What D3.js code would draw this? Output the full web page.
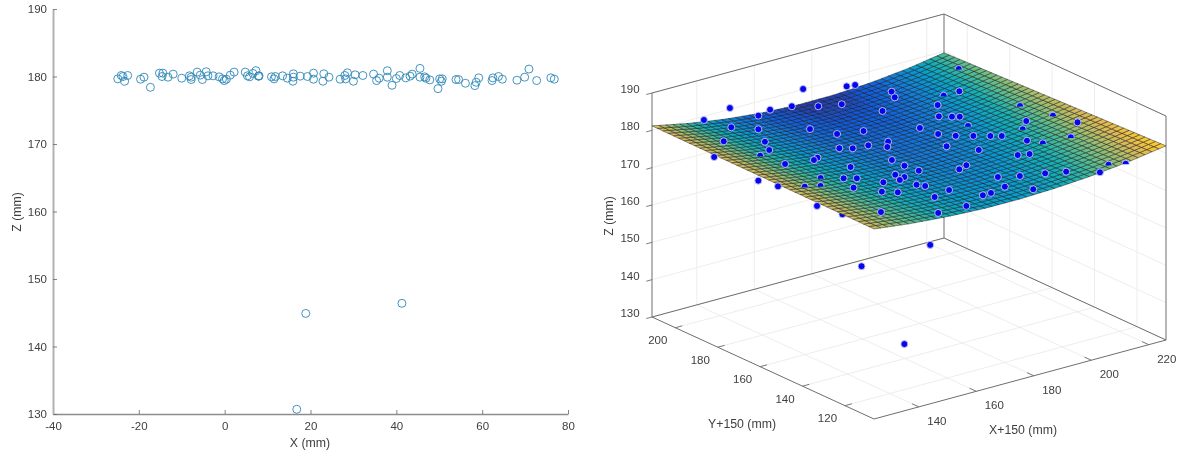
<!DOCTYPE html>
<html>
<head>
<meta charset="utf-8">
<title>Z scatter and fitted surface</title>
<script src="https://cdnjs.cloudflare.com/ajax/libs/d3/7.8.5/d3.min.js"></script>
<style>
	html, body { margin: 0; padding: 0; background: #fff; }
	svg { display: block; filter: blur(0.35px); }
	text { font-family: "Liberation Sans", Arial, sans-serif; fill: #404040; }
</style>
</head>
<body>
<svg id="chart" width="1180" height="452"></svg>
<script>
// --------- data --------- //

// left plot: X (mm), Z (mm)
var scatterX = [-24.9, -24.1, -23.7, -23.3, -22.6, -19.6, -18.8, -17.3, -15.2, -14.4, -14.6, -13.2, -12, -10, -8.2, -7.8, -7.8, -6.4, -5.7, -5.2, -4.3, -3.9, -2.7, -1.3, -0.5, -0.1, 0.4, 1.3, 2.2, 4.8, 5.3, 5.8, 6.6, 7.3, 7.9, 7.9, 8, 10.9, 11.5, 11.8, 13.5, 14.6, 16, 16, 15.9, 17.6, 19.3, 20.7, 20.7, 22.9, 23.1, 24.3, 26.9, 28, 28.6, 28.2, 30, 30.4, 32.2, 34.7, 35.4, 36, 37.9, 37.9, 39, 40, 40.8, 42.2, 43.2, 43.7, 45.5, 45.5, 46.6, 46.9, 47.8, 49.7, 50.1, 50.7, 50.5, 53.9, 54.5, 56.1, 59.2, 58.6, 58.3, 62.5, 62.3, 63.8, 64.7, 68.1, 69.9, 70.9, 72.7, 76, 76.8, 18.9, 41.3, 16.8];
var scatterZ = [179.65, 180.15, 180, 179.3, 180.15, 179.6, 179.9, 178.4, 180.5, 180.5, 180, 179.9, 180.35, 179.75, 180.1, 179.9, 179.55, 180.65, 180.2, 179.55, 180.7, 180.1, 180.1, 179.95, 179.65, 179.4, 179.6, 180.2, 180.65, 180.65, 180.1, 179.95, 180.45, 180.85, 180.05, 180.05, 180.1, 179.95, 179.65, 180, 180.1, 179.75, 180.4, 179.9, 179.3, 180.05, 180, 180.5, 179.6, 179.3, 180.4, 179.9, 179.6, 180.15, 180.55, 179.65, 179.3, 180.25, 180.15, 180.35, 179.4, 179.75, 180.85, 179.9, 178.7, 179.7, 180.15, 179.8, 180.05, 180.35, 181.2, 179.9, 179.95, 179.75, 179.5, 178.2, 179.65, 179.65, 179.3, 179.55, 179.55, 179, 179.8, 179.15, 178.65, 179.8, 179.4, 180, 179.6, 179.45, 179.9, 181.1, 179.4, 179.8, 179.6, 144.9, 146.4, 130.7];
var scatterXTicks = [-40, -20, 0, 20, 40, 60, 80];
var scatterZTicks = [130, 140, 150, 160, 170, 180, 190];

// right plot: points sitting in front of the surface, near Z = 180
var pointZLevel = 180;
var pointX = [140.7, 152.1, 143.2, 134.9, 125.3, 154.7, 160.1, 148.2, 143.7, 140.7, 137.5, 123.7, 177.2, 166.5, 172.3, 188, 190.5, 178.4, 159.6, 163.2, 170.4, 156.9, 159.8, 164.6, 147.6, 145.7, 150.4, 143.5, 146.4, 141.2, 124.5, 135.6, 145.5, 150.3, 148.7, 195.3, 193.3, 184.1, 184.2, 170.7, 168, 162.8, 162.8, 163.6, 156.5, 157.4, 155, 156.4, 210.3, 199, 193.9, 196.6, 198.3, 185.3, 188.3, 192.1, 195.8, 198.3, 181.3, 186.6, 210.8, 221.4, 201.6, 192.7, 195.8, 176.6, 173.1, 157.7, 154.5, 161, 147.7, 157.2, 165.9, 168.8, 174.8, 177.9, 183.2, 179.8, 190, 195.4, 202.5, 125.3];
var pointY = [208.6, 211.8, 199.1, 191.4, 182.9, 201.9, 203.7, 193.1, 183.9, 177.8, 166, 159.9, 211.3, 202.1, 197.5, 205.4, 204.8, 194.7, 184.2, 176.3, 173.6, 166.7, 164.3, 163.5, 164.4, 163.5, 152.6, 146.5, 144.2, 138.7, 133.3, 118.2, 131.2, 137, 128, 194.1, 189.9, 183.2, 165.7, 162.4, 159.1, 149.9, 144, 138.3, 139.8, 136.7, 135.6, 129.6, 182.5, 177.4, 169.9, 167.4, 166, 158.6, 154.4, 151.2, 148.2, 146.2, 149.2, 141.2, 151.6, 141.8, 138.8, 131.1, 129.7, 133.5, 132.1, 127.3, 118.5, 120.5, 107.6, 107.2, 111.2, 111.3, 112.9, 120.4, 117.2, 106.3, 114.5, 111.9, 105.6, 152.8];

// points that dip into the surface, only their top shows
var dippedX = [136, 138.6, 134.8, 131, 220.8, 204.8, 195.7, 216.6, 206.1, 219.2, 212.8, 203.8, 208, 212.2];
var dippedY = [175.7, 150.7, 145.6, 147.9, 197, 182.4, 158.6, 162.4, 146.9, 150.4, 133.3, 134.3, 109, 106.6];

// points below the surface
var lowX = [126.1, 165, 167.8, 190.5];
var lowY = [123.5, 147, 171, 169.4];
var lowZ = [180, 131, 145, 146.4];

// fitted surface, Z read at these X / Y knots (one row per Y knot)
var surfaceXKnots = [124.4, 137.1, 149.8, 162.5, 175.2, 187.9, 200.6, 213.3, 226];
var surfaceYKnots = [106.3, 132.5, 158.7, 184.8, 211];
var surfaceRow1 = [180.9, 179.7, 178.9, 178.4, 178.35, 178.7, 179.4, 180.5, 182];
var surfaceRow2 = [181, 179.55, 178.6, 178, 177.8, 178.1, 178.8, 179.9, 181.4];
var surfaceRow3 = [181.05, 179.4, 178.3, 177.6, 177.3, 177.5, 178.15, 179.25, 180.8];
var surfaceRow4 = [181.1, 179.3, 178, 177.15, 176.8, 176.9, 177.5, 178.6, 180.2];
var surfaceRow5 = [181.2, 179.2, 177.7, 176.7, 176.25, 176.3, 176.9, 178, 179.6];

var boxXTicks = [140, 160, 180, 200, 220];
var boxYTicks = [120, 140, 160, 180, 200];
var boxZTicks = [130, 140, 150, 160, 170, 180, 190];

// parula
var parulaStops = ["#352a87", "#0f5cdd", "#127dd8", "#079ccf", "#15b1b4", "#59bd8c", "#a5be6b", "#e1b952", "#fcce2e", "#f9fb0e"];

var svg = d3.select("#chart");

// --------- left plot --------- //
function drawScatter(){
	var x = d3.scaleLinear().domain([-40, 80]).range([53, 568]);
	var z = d3.scaleLinear().domain([130, 190]).range([414, 9]);

	var g = svg.append("g").attr("class", "scatter");

	var xAxis = g.append("g")
		.attr("transform", "translate(0,414)")
		.call(d3.axisBottom(x).tickValues(scatterXTicks).tickFormat(function(d) { return String(d); }).tickSizeInner(-4).tickSizeOuter(0).tickPadding(8));
	var zAxis = g.append("g")
		.attr("transform", "translate(53,0)")
		.call(d3.axisLeft(z).tickValues(scatterZTicks).tickSizeInner(-4).tickSizeOuter(0).tickPadding(6));

	xAxis.selectAll("text").style("font-size", "11.5px");
	zAxis.selectAll("text").style("font-size", "11.5px");
	xAxis.select(".domain").attr("stroke", "#8c8c8c").attr("stroke-width", 1.3);
	zAxis.select(".domain").attr("stroke", "#b2b2b2").attr("stroke-width", 2);
	g.selectAll(".tick line").attr("stroke", "#666").attr("stroke-width", 0.8);

	g.append("text")
		.attr("x", 310).attr("y", 447)
		.attr("text-anchor", "middle")
		.style("font-size", "12.3px")
		.text("X (mm)");
	g.append("text")
		.attr("transform", "translate(21,212) rotate(-90)")
		.attr("text-anchor", "middle")
		.style("font-size", "12.3px")
		.text("Z (mm)");

	g.selectAll("circle")
		.data(scatterX)
		.enter().append("circle")
			.attr("cx", function(d) { return x(d); })
			.attr("cy", function(d, i) { return z(scatterZ[i]); })
			.attr("r", 4)
			.attr("fill", "none")
			.attr("stroke", "#2f88b8")
			.attr("stroke-width", 0.9);
}

// --------- right plot --------- //
function drawBox(){
	var xLim = [124.4, 226], yLim = [106.3, 211], zLim = [130, 190];

	// screen offset from the front floor corner, one scale per data axis
	var xToLeft = d3.scaleLinear().domain(xLim).range([0, 292]);
	var xToTop = d3.scaleLinear().domain(xLim).range([0, -79]);
	var yToLeft = d3.scaleLinear().domain(yLim).range([0, -222]);
	var yToTop = d3.scaleLinear().domain(yLim).range([0, -102]);
	var zToTop = d3.scaleLinear().domain(zLim).range([0, -224]);

	function project(x, y, z){
		return [874 + xToLeft(x) + yToLeft(y), 419 + xToTop(x) + yToTop(y) + zToTop(z)];
	}

	var g = svg.append("g").attr("class", "box");
	var path = d3.line();

	function seg(parent, a, b, color, width){
		parent.append("path")
			.attr("d", path([project(a[0], a[1], a[2]), project(b[0], b[1], b[2])]))
			.attr("stroke", color)
			.attr("stroke-width", width)
			.attr("fill", "none");
	}

	// grid on floor and the two back walls
	var grid = g.append("g").attr("class", "grid");
	var gridColor = "#e8e8e8";
	boxXTicks.forEach(function(t){
		seg(grid, [t, yLim[0], zLim[0]], [t, yLim[1], zLim[0]], gridColor, 0.8);
		seg(grid, [t, yLim[1], zLim[0]], [t, yLim[1], zLim[1]], gridColor, 0.8);
	});
	boxYTicks.forEach(function(t){
		seg(grid, [xLim[0], t, zLim[0]], [xLim[1], t, zLim[0]], gridColor, 0.8);
		seg(grid, [xLim[1], t, zLim[0]], [xLim[1], t, zLim[1]], gridColor, 0.8);
	});
	boxZTicks.forEach(function(t){
		seg(grid, [xLim[0], yLim[1], t], [xLim[1], yLim[1], t], gridColor, 0.8);
		seg(grid, [xLim[1], yLim[1], t], [xLim[1], yLim[0], t], gridColor, 0.8);
	});

	// box edges
	var edges = g.append("g").attr("class", "edges");
	var edgeColor = "#6e6e6e";
	seg(edges, [xLim[0], yLim[1], zLim[0]], [xLim[0], yLim[1], zLim[1]], edgeColor, 1);
	seg(edges, [xLim[1], yLim[1], zLim[0]], [xLim[1], yLim[1], zLim[1]], edgeColor, 1);
	seg(edges, [xLim[1], yLim[0], zLim[0]], [xLim[1], yLim[0], zLim[1]], edgeColor, 1);
	seg(edges, [xLim[0], yLim[1], zLim[1]], [xLim[1], yLim[1], zLim[1]], edgeColor, 1);
	seg(edges, [xLim[1], yLim[1], zLim[1]], [xLim[1], yLim[0], zLim[1]], edgeColor, 1);
	seg(edges, [xLim[0], yLim[1], zLim[0]], [xLim[1], yLim[1], zLim[0]], edgeColor, 1);
	seg(edges, [xLim[1], yLim[1], zLim[0]], [xLim[1], yLim[0], zLim[0]], edgeColor, 1);
	seg(edges, [xLim[0], yLim[0], zLim[0]], [xLim[1], yLim[0], zLim[0]], edgeColor, 1);
	seg(edges, [xLim[0], yLim[0], zLim[0]], [xLim[0], yLim[1], zLim[0]], edgeColor, 1);

	// ticks and labels
	var labels = g.append("g").attr("class", "labels");
	function label(pos, dx, dy, txt){
		labels.append("text")
			.attr("x", pos[0] + dx).attr("y", pos[1] + dy)
			.attr("text-anchor", "middle")
			.attr("dominant-baseline", "central")
			.style("font-size", "11.5px")
			.text(txt);
	}
	boxXTicks.forEach(function(t){
		seg(labels, [t, yLim[0], zLim[0]], [t, yLim[0] + 3.2, zLim[0]], edgeColor, 0.9);
		label(project(t, yLim[0], zLim[0]), 18, 14, t);
	});
	boxYTicks.forEach(function(t){
		seg(labels, [xLim[0], t, zLim[0]], [xLim[0] + 2.4, t, zLim[0]], edgeColor, 0.9);
		label(project(xLim[0], t, zLim[0]), -17.5, 12.5, t);
	});
	boxZTicks.forEach(function(t){
		seg(labels, [xLim[0], yLim[1], t], [xLim[0] - 2, yLim[1], t], edgeColor, 0.9);
		label(project(xLim[0], yLim[1], t), -22, -4, t);
	});
	labels.selectAll("text.axis-title")
		.data([
			{t: "X+150 (mm)", x: 1023, y: 430, r: 0},
			{t: "Y+150 (mm)", x: 742, y: 424, r: 0},
			{t: "Z (mm)", x: 609, y: 216, r: -90}
		])
		.enter().append("text")
			.attr("class", "axis-title")
			.attr("transform", function(d) { return "translate(" + d.x + "," + d.y + ") rotate(" + d.r + ")"; })
			.attr("text-anchor", "middle")
			.attr("dominant-baseline", "central")
			.style("font-size", "12.3px")
			.text(function(d) { return d.t; });

	function dots(parent, xs, ys, zs){
		parent.selectAll("circle")
			.data(xs)
			.enter().append("circle")
				.attr("transform", function(d, i) {
					return "translate(" + project(d, ys[i], zs(i)) + ")";
				})
				.attr("r", 3.5)
				.attr("fill", "#0505ee")
				.attr("stroke", "#c9c9f2")
				.attr("stroke-width", 0.9);
	}

	// points hidden by the surface go first
	dots(g.append("g").attr("class", "low"), lowX, lowY, function(i) { return lowZ[i]; });

	// surface
	var rows = [surfaceRow1, surfaceRow2, surfaceRow3, surfaceRow4, surfaceRow5].map(function(r){
		return d3.scaleLinear().domain(surfaceXKnots).range(r);
	});
	function surfaceZ(x, y){
		var i = Math.max(0, Math.min(d3.bisectRight(surfaceYKnots, y) - 1, rows.length - 2));
		var t = (y - surfaceYKnots[i]) / (surfaceYKnots[i + 1] - surfaceYKnots[i]);
		return rows[i](x) * (1 - t) + rows[i + 1](x) * t;
	}

	var color = d3.scaleLinear()
		.domain(parulaStops.map(function(d, i) { return 176 + 6.6 * i / (parulaStops.length - 1); }))
		.range(parulaStops)
		.clamp(true);

	var nCols = 42, nRows = 42;
	var meshX = d3.scaleLinear().domain([0, nCols]).range(xLim);
	var meshY = d3.scaleLinear().domain([0, nRows]).range(yLim);
	var cells = [];
	d3.range(nRows).forEach(function(j){
		d3.range(nCols).forEach(function(i){
			cells.push([i, j]);
		});
	});

	g.append("g").attr("class", "surface")
		.selectAll("path")
		.data(cells)
		.enter().append("path")
			.attr("d", function(c) {
				var corners = [[c[0], c[1]], [c[0] + 1, c[1]], [c[0] + 1, c[1] + 1], [c[0], c[1] + 1]].map(function(k){
					var px = meshX(k[0]), py = meshY(k[1]);
					return project(px, py, surfaceZ(px, py));
				});
				return path(corners) + "Z";
			})
			.attr("fill", function(c) {
				return color(surfaceZ(meshX(c[0] + 0.5), meshY(c[1] + 0.5)));
			})
			.attr("stroke", "#12121c")
			.attr("stroke-opacity", 0.75)
			.attr("stroke-width", 0.6);

	// points dipping into the surface: keep the top of the marker
	svg.append("clipPath").attr("id", "dipClip")
		.append("rect").attr("x", -5).attr("y", -5).attr("width", 10).attr("height", 5.6);
	var dipped = g.append("g").attr("class", "dipped");
	dots(dipped, dippedX, dippedY, function() { return pointZLevel; });
	dipped.selectAll("circle").attr("clip-path", "url(#dipClip)");

	dots(g.append("g").attr("class", "points"), pointX, pointY, function() { return pointZLevel; });
}

drawScatter();
drawBox();
</script>
</body>
</html>
